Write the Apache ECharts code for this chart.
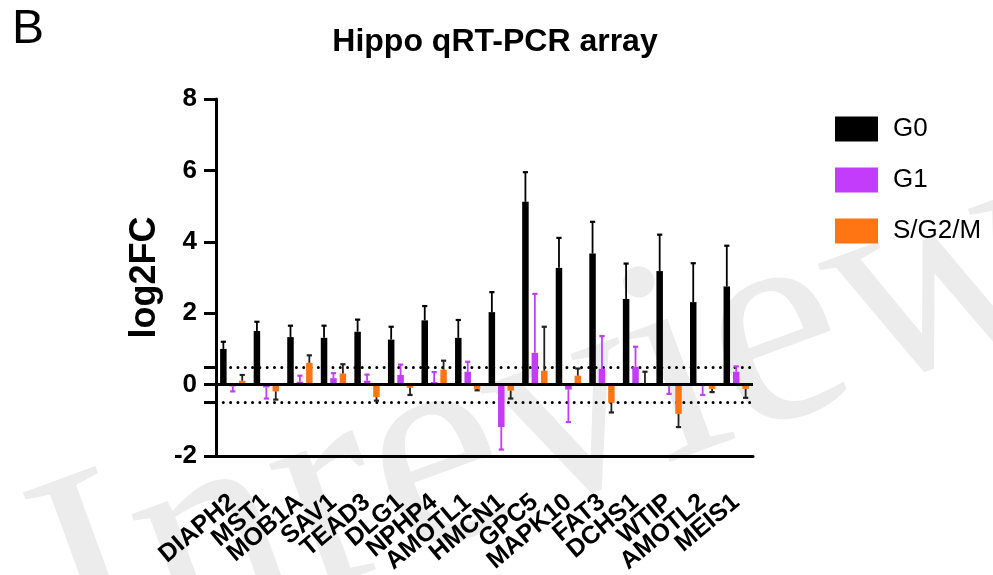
<!DOCTYPE html>
<html>
<head>
<meta charset="utf-8">
<script src="https://cdn.jsdelivr.net/npm/echarts@6/dist/echarts.min.js"></script>
<style>html,body{margin:0;padding:0;background:#fff;}#c{width:993px;height:575px;}</style>
</head>
<body>
<div id="c"></div>
<script>
var categories = ['DIAPH2','MST1','MOB1A','SAV1','TEAD3','DLG1','NPHP4','AMOTL1','HMCN1','GPC5','MAPK10','FAT3','DCHS1','WTIP','AMOTL2','MEIS1'];
var g0 = [1.0,1.5,1.33,1.31,1.48,1.26,1.8,1.31,2.03,5.12,3.27,3.67,2.4,3.18,2.31,2.75];
var g0Err = [0.2,0.26,0.32,0.34,0.34,0.36,0.4,0.5,0.56,0.83,0.84,0.89,0.99,1.02,1.09,1.14];
var g1 = [-0.05,-0.08,0.08,0.18,0.11,0.27,0.07,0.36,-1.19,0.89,-0.14,0.44,0.5,-0.03,-0.04,0.36];
var g1Err = [0.14,0.31,0.17,0.14,0.17,0.29,0.28,0.28,0.63,1.65,0.91,0.92,0.56,0.23,0.25,0.15];
var sg = [0.11,-0.19,0.61,0.31,-0.35,-0.09,0.42,-0.12,-0.17,0.39,0.25,-0.51,0.02,-0.82,-0.12,-0.12];
var sgErr = [0.16,0.23,0.21,0.26,0.10,0.20,0.25,0.04,0.22,1.23,0.2,0.27,0.34,0.37,0.09,0.25];
var yTickValues = [-2,-0.5,0,0.5,2,4,6,8];
var yLabelValues = [-2,0,2,4,6,8];

var C_G0 = '#000000', C_G1 = '#C33CFB', C_SG = '#FF7513';
var BW = 6.5, GAP = 0.45, OFF = BW * (1 + GAP);

function errSeries(name, vals, errs, offset, color) {
  return {
    type: 'custom',
    name: name + ' err',
    z: 5,
    silent: true,
    data: vals.map(function (v, i) { return [i, v, errs[i]]; }),
    renderItem: function (params, api) {
      var i = api.value(0), v = api.value(1), e = api.value(2);
      var sign = v >= 0 ? 1 : -1;
      var p0 = api.coord([i, v]);
      var p1 = api.coord([i, v + sign * e]);
      var x = p0[0] + offset;
      return {
        type: 'group',
        children: [
          { type: 'line', shape: { x1: x, y1: p0[1], x2: x, y2: p1[1] }, style: { stroke: color, lineWidth: 1.8 } },
          { type: 'line', shape: { x1: x - 2.6, y1: p1[1], x2: x + 2.6, y2: p1[1] }, style: { stroke: color, lineWidth: 2.2 } }
        ]
      };
    },
    encode: { x: 0, y: 1 }
  };
}

var chart = echarts.init(document.getElementById('c'));
var FONT = '"Liberation Sans", Arial, Helvetica, sans-serif';
chart.setOption({
  animation: false,
  textStyle: { fontFamily: FONT },
  graphic: [
    { type: 'text', x: 545, y: 425, rotation: 0.35, z: -10,
      style: { text: 'Inreview', font: '295px "Liberation Serif", "DejaVu Serif", serif', fill: '#ececec', align: 'center', verticalAlign: 'middle' } },
    { type: 'text', x: 12, y: 6, style: { text: 'B', font: '48px ' + FONT, fill: '#000' } }
  ],
  title: {
    text: 'Hippo qRT-PCR array', left: 490, top: 21, textAlign: 'center',
    textStyle: { fontSize: 32, fontWeight: 'bold', color: '#000', fontFamily: FONT }
  },
  legend: {
    orient: 'vertical', left: 830, top: 111, itemWidth: 43, itemHeight: 25, itemGap: 25,
    icon: 'rect',
    textStyle: { fontSize: 26, color: '#000', padding: [0, 0, 0, 10], fontFamily: FONT },
    data: ['G0', 'G1', 'S/G2/M']
  },
  grid: { left: 216, right: 240, top: 99, bottom: 119, containLabel: false, outerBoundsMode: 'none' },
  xAxis: {
    type: 'category', data: categories,
    axisLine: { onZero: false, lineStyle: { color: '#000', width: 3 } },
    axisTick: { alignWithLabel: true, length: 15, lineStyle: { color: '#000', width: 3 } },
    axisLabel: { interval: 0, rotate: 40, align: 'right', verticalAlign: 'middle', margin: 43,
      fontSize: 25, fontWeight: 'bold', color: '#000', fontFamily: FONT },
    splitLine: { show: false }
  },
  yAxis: {
    type: 'value', min: -2, max: 8, interval: 2,
    name: 'log2FC', nameLocation: 'middle', nameGap: 41, nameRotate: 90,
    nameTextStyle: { fontSize: 36, fontWeight: 'bold', color: '#000', fontFamily: FONT },
    axisLine: { show: true, lineStyle: { color: '#000', width: 3 } },
    axisTick: { show: true, length: 12, customValues: yTickValues, lineStyle: { color: '#000', width: 3 } },
    axisLabel: { customValues: yLabelValues, fontSize: 26, fontWeight: 'bold', color: '#000', margin: 19, fontFamily: FONT },
    splitLine: { show: false }
  },
  series: [
    { type: 'bar', name: 'G0', data: g0, barWidth: BW, barGap: (GAP * 100) + '%', itemStyle: { color: C_G0 }, z: 3,
      markLine: {
        silent: true, symbol: 'none', label: { show: false }, z: 1,
        data: [
          { yAxis: 0.5, lineStyle: { color: '#000', width: 3, type: [0.01, 7.3], cap: 'round' } },
          { yAxis: -0.5, lineStyle: { color: '#000', width: 3, type: [0.01, 7.3], cap: 'round' } }
        ]
      }
    },
    { type: 'bar', name: 'G1', data: g1, barWidth: BW, barGap: (GAP * 100) + '%', itemStyle: { color: C_G1 }, z: 3,
      markLine: {
        silent: true, symbol: 'none', label: { show: false },
        data: [ { yAxis: 0, lineStyle: { color: '#000', width: 2.8, type: 'solid' } } ]
      }
    },
    { type: 'bar', name: 'S/G2/M', data: sg, barWidth: BW, barGap: (GAP * 100) + '%', itemStyle: { color: C_SG }, z: 3 },
    errSeries('G0', g0, g0Err, -OFF, '#000'),
    errSeries('G1', g1, g1Err, 0, C_G1),
    errSeries('S/G2/M', sg, sgErr, OFF, '#222')
  ]
});
</script>
</body>
</html>
